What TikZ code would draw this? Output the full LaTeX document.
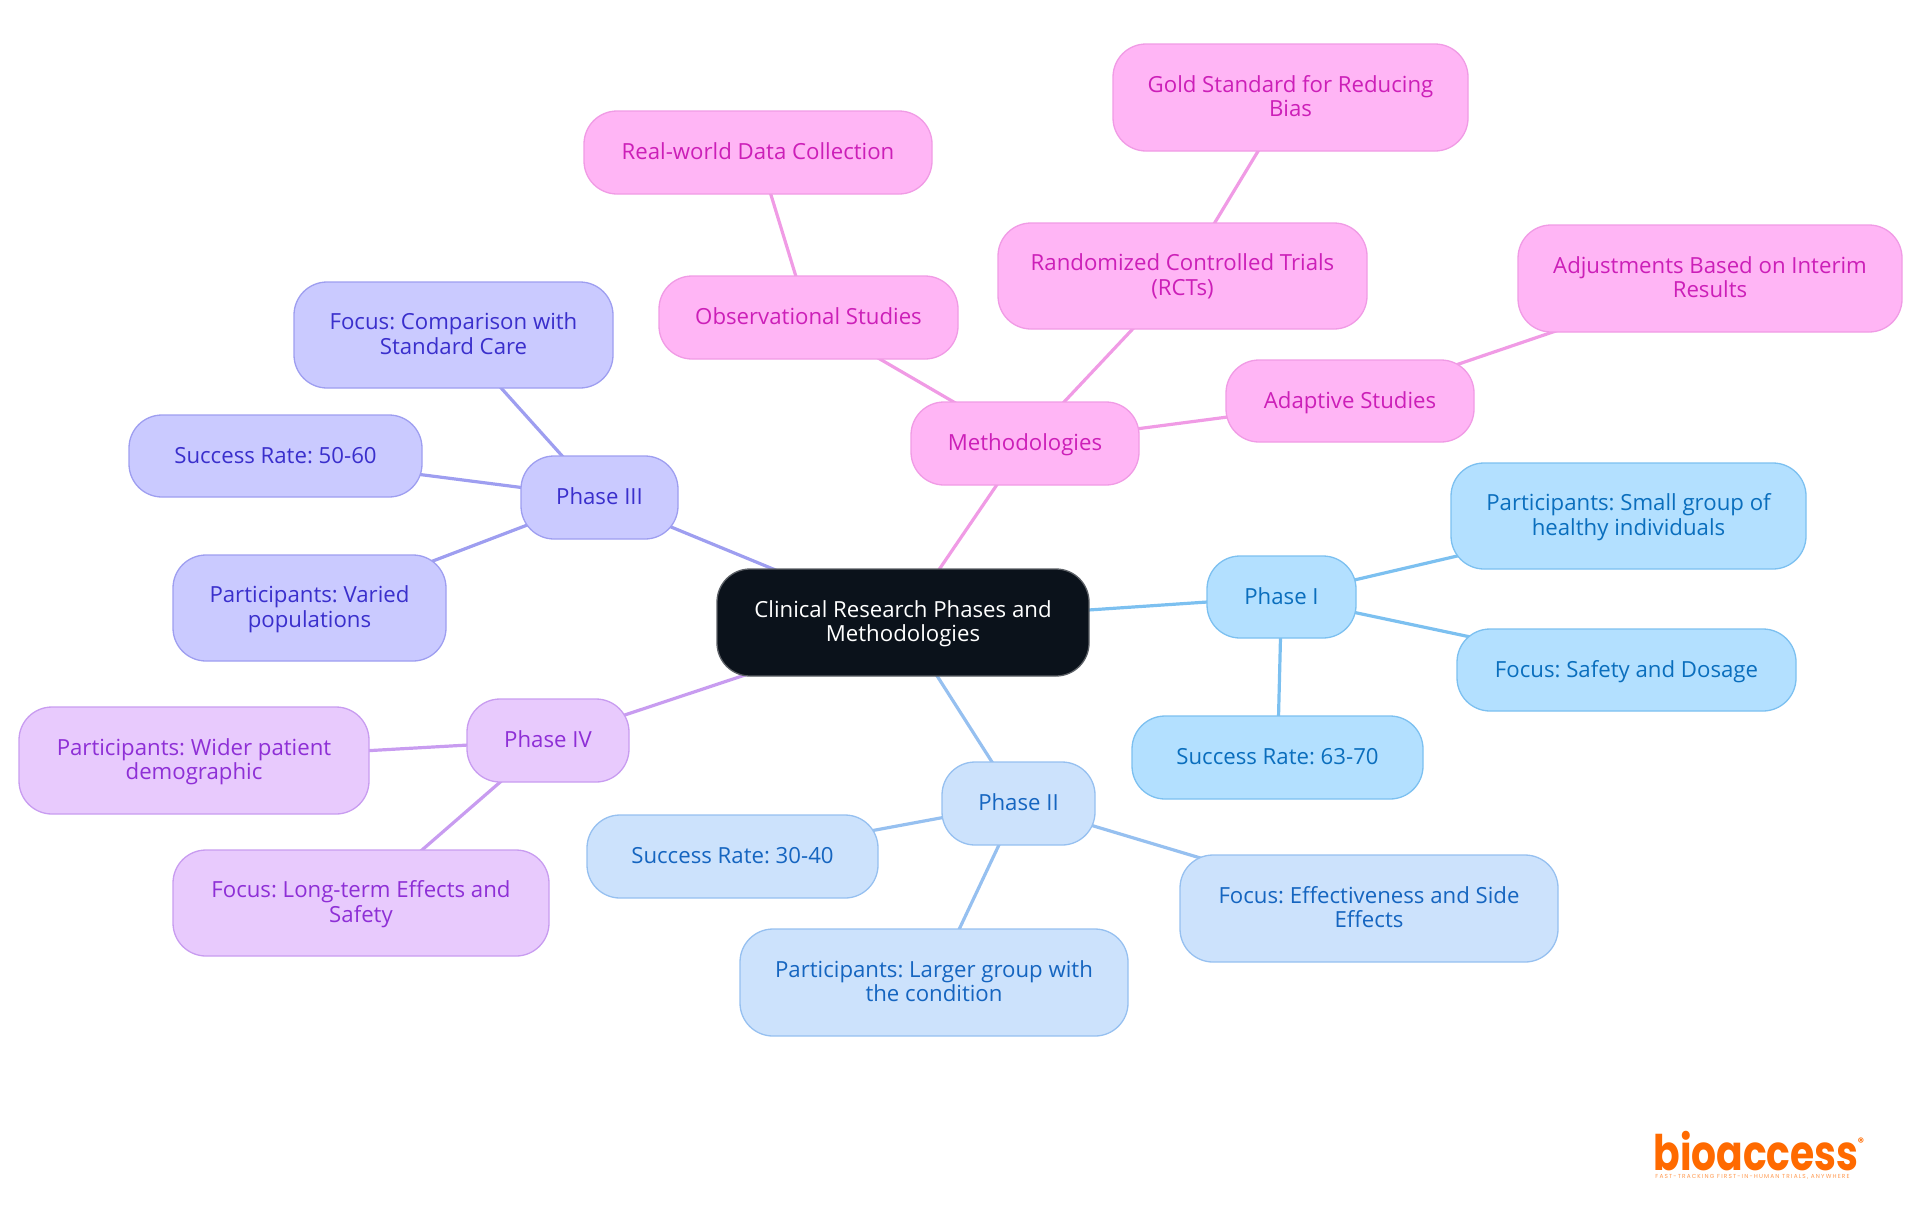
\documentclass[tikz,border=0pt]{standalone}
\usepackage{fontspec}
\setmainfont{Open Sans}
\newfontfamily\logofont[FakeStretch=0.8]{Poppins}
\newfontfamily\tagfont[LetterSpace=20]{Poppins}
\newfontfamily\regfont{Poppins}
\usetikzlibrary{backgrounds}
\definecolor{cCore}{HTML}{0B121B}\definecolor{cCoreB}{HTML}{5C6066}
\definecolor{fA}{HTML}{B3E0FF}\definecolor{bA}{HTML}{7CC0F0}\definecolor{tA}{HTML}{0A6EBD}
\definecolor{fB}{HTML}{CCE2FC}\definecolor{bB}{HTML}{96C0F0}\definecolor{tB}{HTML}{1565C0}
\definecolor{fC}{HTML}{CACAFF}\definecolor{bC}{HTML}{9E9EF0}\definecolor{tC}{HTML}{3A2FCC}
\definecolor{fD}{HTML}{E8CAFD}\definecolor{bD}{HTML}{C89CF0}\definecolor{tD}{HTML}{8E2FD6}
\definecolor{fE}{HTML}{FFB5F5}\definecolor{bE}{HTML}{F09BE5}\definecolor{tE}{HTML}{CC1FB8}
\definecolor{cLogo}{HTML}{FF6A00}
\tikzset{
  box/.style={rounded corners=16.5pt,line width=0.65pt,align=center,inner sep=0pt,outer sep=0pt,
    font=\fontsize{11.1}{12.25}\selectfont\frenchspacing},
  core/.style={box,fill=cCore,draw=cCoreB,text=white},
  boxA/.style={box,fill=fA,draw=bA,text=tA},
  boxB/.style={box,fill=fB,draw=bB,text=tB},
  boxC/.style={box,fill=fC,draw=bC,text=tC},
  boxD/.style={box,fill=fD,draw=bD,text=tD},
  boxE/.style={box,fill=fE,draw=bE,text=tE},
  edgeA/.style={draw=bA,line width=1.6pt},
  edgeB/.style={draw=bB,line width=1.6pt},
  edgeC/.style={draw=bC,line width=1.6pt},
  edgeD/.style={draw=bD,line width=1.6pt},
  edgeE/.style={draw=bE,line width=1.6pt},
}
\newcommand\mn[7]{%
  \pgfmathsetmacro\mnw{(#4-#3)*0.5}\pgfmathsetmacro\mnh{(#6-#5)*0.5}%
  \pgfmathsetmacro\mnx{(#3+#4)*0.5}\pgfmathsetmacro\mny{(#5+#6)*0.5}%
  \node[#1,minimum width=\mnw pt,minimum height=\mnh pt] (#2) at (\mnx,\mny) {\rule{0pt}{10.9pt}#7\strut};}
\begin{document}
\begin{tikzpicture}[x=0.5pt,y=-0.5pt]
\useasboundingbox (0,0) rectangle (1920,1215);
\mn{core}{root}{717}{1089}{569}{676}{Clinical Research Phases and\\Methodologies}
\mn{boxA}{p1}{1207}{1356}{556}{638}{Phase I}
\mn{boxA}{p1a}{1451}{1806}{463}{569}{Participants: Small group of\\healthy individuals}
\mn{boxA}{p1b}{1457}{1796}{629}{711}{Focus: Safety and Dosage}
\mn{boxA}{p1c}{1132}{1423}{716}{799}{Success Rate: 63-70}
\mn{boxB}{p2}{942}{1095}{762}{845}{Phase II}
\mn{boxB}{p2a}{587}{878}{815}{898}{Success Rate: 30-40}
\mn{boxB}{p2b}{740}{1128}{929}{1036}{Participants: Larger group with\\the condition}
\mn{boxB}{p2c}{1180}{1558}{855}{962}{Focus: Effectiveness and Side\\Effects}
\mn{boxC}{p3}{521}{678}{456}{539}{Phase III}
\mn{boxC}{p3a}{294}{613}{282}{388}{Focus: Comparison with\\Standard Care}
\mn{boxC}{p3b}{129}{422}{415}{497}{Success Rate: 50-60}
\mn{boxC}{p3c}{173}{446}{555}{661}{Participants: Varied\\populations}
\mn{boxD}{p4}{467}{629}{699}{782}{Phase IV}
\mn{boxD}{p4a}{19}{369}{707}{814}{Participants: Wider patient\\demographic}
\mn{boxD}{p4b}{173}{549}{850}{956}{Focus: Long-term Effects and\\Safety}
\mn{boxE}{m}{911}{1139}{402}{485}{Methodologies}
\mn{boxE}{mo}{659}{958}{276}{359}{Observational Studies}
\mn{boxE}{mor}{584}{932}{111}{194}{Real-world Data Collection}
\mn{boxE}{mr}{998}{1367}{223}{329}{Randomized Controlled Trials\\(RCTs)}
\mn{boxE}{mrg}{1113}{1468}{44}{151}{Gold Standard for Reducing\\Bias}
\mn{boxE}{ma}{1226}{1474}{360}{442}{Adaptive Studies}
\mn{boxE}{maa}{1518}{1902}{225}{332}{Adjustments Based on Interim\\Results}
\node[text=cLogo,inner sep=0pt,anchor=base west,text depth=0pt,text height=18pt,font=\logofont\bfseries\fontsize{24.5}{24.5}\selectfont] (logo) at (1653,1170) {bioaccess};
\node[text=cLogo,inner sep=0pt,font=\regfont\bfseries\fontsize{6}{6}\selectfont] (reg) at (1861,1142) {®};
\node[text=cLogo!70,inner sep=0pt,anchor=west,font=\tagfont\fontsize{2.9}{3}\selectfont] (tag) at (1655,1177) {FAST-TRACKING FIRST-IN-HUMAN TRIALS, ANYWHERE};
\begin{scope}[on background layer]
\draw[edgeA] (root.center)--(p1.center);
\draw[edgeA] (p1.center)--(p1a.center);
\draw[edgeA] (p1.center)--(p1b.center);
\draw[edgeA] (p1.center)--(p1c.center);
\draw[edgeB] (root.center)--(p2.center);
\draw[edgeB] (p2.center)--(p2a.center);
\draw[edgeB] (p2.center)--(p2b.center);
\draw[edgeB] (p2.center)--(p2c.center);
\draw[edgeC] (root.center)--(p3.center);
\draw[edgeC] (p3.center)--(p3a.center);
\draw[edgeC] (p3.center)--(p3b.center);
\draw[edgeC] (p3.center)--(p3c.center);
\draw[edgeD] (root.center)--(p4.center);
\draw[edgeD] (p4.center)--(p4a.center);
\draw[edgeD] (p4.center)--(p4b.center);
\draw[edgeE] (root.center)--(m.center);
\draw[edgeE] (m.center)--(mo.center);
\draw[edgeE] (mo.center)--(mor.center);
\draw[edgeE] (m.center)--(mr.center);
\draw[edgeE] (mr.center)--(mrg.center);
\draw[edgeE] (m.center)--(ma.center);
\draw[edgeE] (ma.center)--(maa.center);
\end{scope}
\end{tikzpicture}
\end{document}
